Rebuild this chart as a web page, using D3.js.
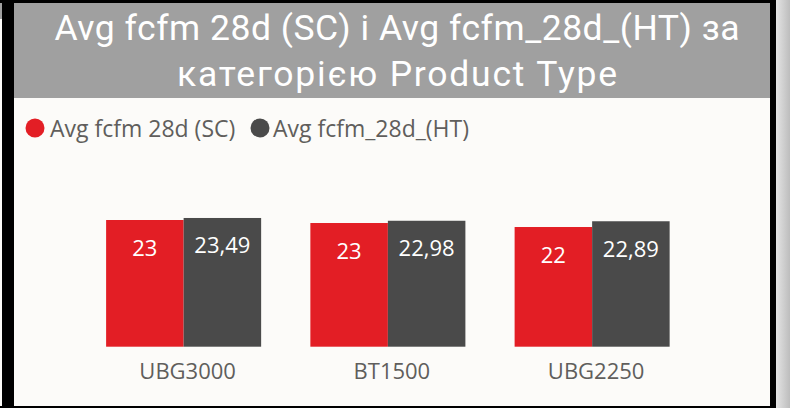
<!DOCTYPE html>
<html>
<head>
<meta charset="utf-8">
<script src="https://cdn.jsdelivr.net/npm/d3@7"></script>
<style>
  html, body { margin: 0; padding: 0; background: #fcfbf9; }
  svg { display: block; }
</style>
</head>
<body>
<svg id="chart" width="790" height="408"></svg>
<script>
// ---- data ----
const categories = ["UBG3000", "BT1500", "UBG2250"];
const seriesNames = ["Avg fcfm 28d (SC)", "Avg fcfm_28d_(HT)"];
const scValues = [23.12, 22.57, 21.84];
const htValues = [23.49, 22.98, 22.89];
const titleLines = ["Avg fcfm 28d (SC) і Avg fcfm_28d_(HT) за", "категорією Product Type"];

const colors = ["#e31e25", "#4a4a4a"];

const svg = d3.select("#chart");
const W = 790, H = 408;

// background and frame
svg.append("rect").attr("x", 0).attr("y", 0).attr("width", W).attr("height", H).attr("fill", "#fcfbf9");
const grad = svg.append("defs").append("linearGradient").attr("id", "rg").attr("x1", "0").attr("x2", "1").attr("y1", "0").attr("y2", "0");
grad.append("stop").attr("offset", "0").attr("stop-color", "#e4e4e4");
grad.append("stop").attr("offset", "1").attr("stop-color", "#bdbdbd");
svg.append("rect").attr("x", 776).attr("y", 0).attr("width", 14).attr("height", H).attr("fill", "url(#rg)");
svg.append("rect").attr("x", 0).attr("y", 3).attr("width", 2).attr("height", 16).attr("fill", "#a0a0a0");
svg.append("rect").attr("x", 14).attr("y", 3).attr("width", 756).attr("height", 95).attr("fill", "#a0a0a0");
svg.append("rect").attr("x", 0).attr("y", 0).attr("width", 776).attr("height", 3).attr("fill", "#000");
svg.append("rect").attr("x", 2).attr("y", 0).attr("width", 12).attr("height", H).attr("fill", "#000");
svg.append("rect").attr("x", 770).attr("y", 0).attr("width", 6).attr("height", H).attr("fill", "#000");
svg.append("rect").attr("x", 0).attr("y", 406).attr("width", 776).attr("height", 2).attr("fill", "#000");

// title
const titleWidths = [685, 440];
const title = svg.append("text")
  .attr("text-anchor", "middle")
  .attr("fill", "#ffffff")
  .style("font-family", "Roboto, 'DejaVu Sans', sans-serif")
  .style("font-size", "35.5px");
titleLines.forEach((t, i) => {
  title.append("tspan").attr("x", 397).attr("y", i === 0 ? 40 : 86)
    .attr("textLength", titleWidths[i]).attr("lengthAdjust", "spacing")
    .text(t);
});

// legend
const legendFont = "'Open Sans', 'Noto Sans', sans-serif";
const legendPos = [{cx: 35, tx: 50}, {cx: 260, tx: 273}];
seriesNames.forEach((name, i) => {
  svg.append("circle").attr("cx", legendPos[i].cx).attr("cy", 128).attr("r", 9.5).attr("fill", colors[i]);
  svg.append("text").attr("x", legendPos[i].tx).attr("y", 136.5)
    .attr("fill", "#605e5c")
    .style("font-family", legendFont).style("font-size", "23px")
    .text(name);
});

// scales
const x0 = d3.scaleBand().domain(categories).range([81.5, 694.25]).paddingInner(0.241).paddingOuter(0.1205);
const x1 = d3.scaleBand().domain(seriesNames).range([0, x0.bandwidth()]).padding(0);
const y = d3.scaleLinear().domain([0, 25]).range([346.7, 209.7]);

const rows = categories.map((c, i) => ({ cat: c, vals: [scValues[i], htValues[i]] }));

const ukLocale = d3.formatLocale({ decimal: ",", thousands: " ", grouping: [3], currency: ["", ""] });
const fmt = [ukLocale.format(".0f"), ukLocale.format(".2f")];

const groups = svg.append("g").selectAll("g").data(rows).join("g")
  .attr("transform", d => `translate(${x0(d.cat)},0)`);

groups.selectAll("rect").data(d => d.vals.map((v, i) => ({ v, i, s: seriesNames[i] }))).join("rect")
  .attr("x", d => x1(d.s))
  .attr("y", d => y(d.v))
  .attr("width", x1.bandwidth())
  .attr("height", d => y(0) - y(d.v))
  .attr("fill", d => colors[d.i]);

groups.selectAll("text.lbl").data(d => d.vals.map((v, i) => ({ v, i, s: seriesNames[i] }))).join("text")
  .attr("class", "lbl")
  .attr("x", d => x1(d.s) + x1.bandwidth() / 2)
  .attr("y", d => y(d.v) + 35.5)
  .attr("text-anchor", "middle")
  .attr("fill", "#ffffff")
  .style("font-family", legendFont).style("font-size", "22px")
  .text(d => fmt[d.i](d.v));

// x axis (labels only)
const xAxis = svg.append("g").attr("transform", `translate(4,${y(0)})`)
  .call(d3.axisBottom(x0).tickSize(0).tickPadding(17));
xAxis.select(".domain").remove();
xAxis.selectAll("text")
  .attr("fill", "#605e5c")
  .style("font-family", legendFont).style("font-size", "22px");
</script>
</body>
</html>
